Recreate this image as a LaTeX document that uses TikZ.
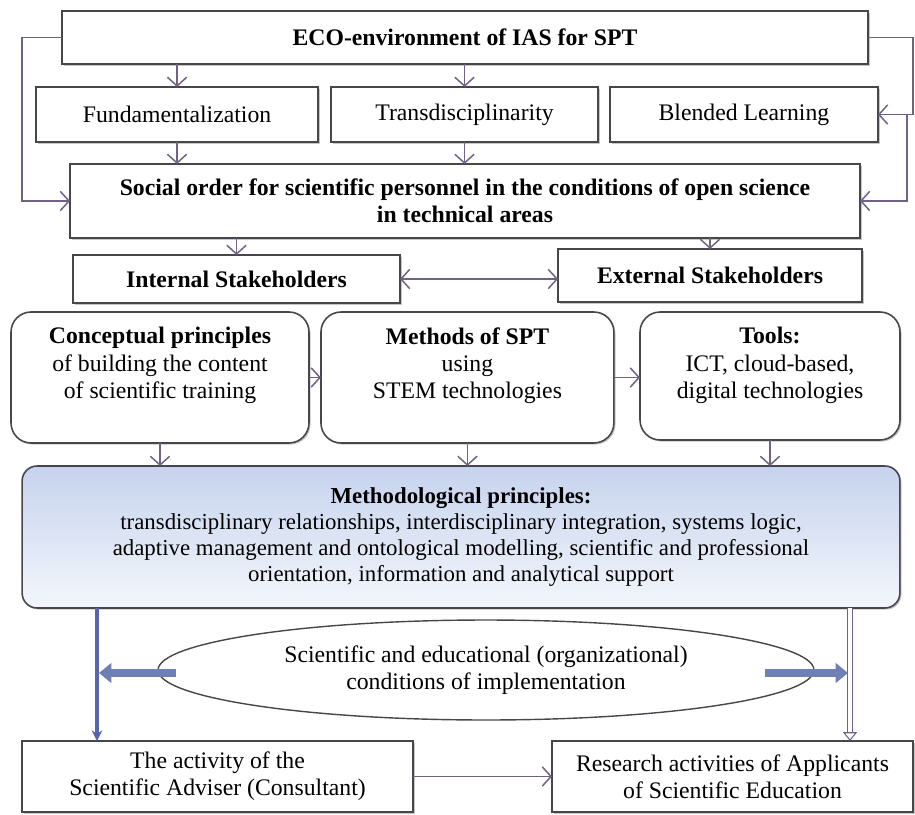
\documentclass[tikz,border=0pt]{standalone}
\usepackage{fontspec}
\setmainfont{Liberation Serif}
\usetikzlibrary{positioning}
\usetikzlibrary{arrows.meta}
\usetikzlibrary{shapes.geometric}
\usetikzlibrary{shadows}

\definecolor{boxline}{RGB}{72,70,76}
\definecolor{arrowgray}{RGB}{112,98,132}
\definecolor{bluearr}{RGB}{88,100,172}
\definecolor{blocka}{RGB}{110,128,180}
\definecolor{methtop}{RGB}{198,211,238}
\definecolor{methbot}{RGB}{243,246,251}

\begin{document}
\begin{tikzpicture}[x=0.02cm, y=-0.02cm,
	box/.style={draw=boxline, line width=.9pt, fill=white, inner sep=0pt, outer sep=0pt, align=center,
		font=\fontsize{13.5}{15.5}\selectfont,
		drop shadow={shadow xshift=.9pt, shadow yshift=-.9pt, opacity=.45}},
	boldbox/.style={box, font=\fontsize{13.5}{15.5}\selectfont\bfseries},
	rbox/.style={box, rounded corners=0.4cm},
	txt/.style={align=center, inner sep=0pt, font=\fontsize{13.5}{15.5}\selectfont},
	conn/.style={draw=arrowgray, line width=.85pt, -{Straight Barb[length=5pt,width=11pt]}},
	both/.style={conn, {Straight Barb[length=5pt,width=11pt]}-{Straight Barb[length=5pt,width=11pt]}},
	blockarr/.style={draw=blocka, line width=4.5pt, -{Triangle[length=7pt,width=11pt]}},
]
	\useasboundingbox (0,0) rectangle (915,814);

	\node[boldbox, minimum width=16.12cm, minimum height=1.06cm] (eco) at (465,37.5) {ECO-environment of IAS for SPT};
	\node[box, minimum width=5.34cm, minimum height=1.1cm] (trans) at (464.5,114.5) {Transdisciplinarity};
	\node[box, minimum width=5.64cm, minimum height=1.1cm, left = 0.26cm of trans] (fund) {Fundamentalization};
	\node[box, minimum width=5.36cm, minimum height=1.1cm, right = 0.24cm of trans] (blend) {Blended Learning};
	\node[boldbox, minimum width=15.8cm, minimum height=1.48cm] (social) at (465,201) {Social order for scientific personnel in the conditions of open science\\in technical areas};
	\node[boldbox, minimum width=6.54cm, minimum height=0.96cm] (internal) at (236.5,279) {Internal Stakeholders};
	\node[boldbox, minimum width=6.08cm, minimum height=1.06cm] (external) at (710,275.5) {External Stakeholders};

	\node[rbox, minimum width=5.96cm, minimum height=2.62cm] (concept) at (160,377.5) {};
	\node[rbox, minimum width=5.86cm, minimum height=2.62cm, right = 0.24cm of concept] (methods) {};
	\node[rbox, minimum width=5.2cm, minimum height=2.56cm] (tools) at (770,376) {};
	\node[txt, below = 0.3cm of concept.north] (conceptT) {\textbf{Conceptual principles}\\of building the content\\of scientific training};
	\node[txt, below = 0.3cm of methods.north] (methodsT) {\textbf{Methods of SPT}\\using\\STEM technologies};
	\node[txt, below = 0.3cm of tools.north] (toolsT) {\textbf{Tools:}\\ICT, cloud-based,\\digital technologies};

	\node[rbox, rounded corners=0.3cm, top color=methtop, bottom color=methbot, minimum width=17.56cm, minimum height=2.84cm, font=\fontsize{13}{14.8}\selectfont] (meth) at (461,537) {\textbf{Methodological principles:}\\transdisciplinary relationships, interdisciplinary integration, systems logic,\\adaptive management and ontological modelling, scientific and professional\\orientation, information and analytical support};

	\node[draw=boxline, line width=.8pt, ellipse, inner sep=0pt, minimum width=13.12cm, minimum height=2cm, align=center, font=\fontsize{13.5}{15.5}\selectfont] (cond) at (486,670) {Scientific and educational (organizational)\\conditions of implementation};

	\node[box, minimum width=7.82cm, minimum height=1.42cm] (adv) at (217.5,776.5) {The activity of the\\Scientific Adviser (Consultant)};
	\node[box, minimum width=7.22cm, minimum height=1.42cm] (res) at (732.5,776.5) {Research activities of Applicants\\of Scientific Education};

	\coordinate (lcorner) at (22,37.5);
	\coordinate (rcorner) at (913,37.5);
	\coordinate (rjoin) at (907,114.5);
	\coordinate (advx) at (97,0);
	\coordinate (resx) at (850,0);
	\coordinate (lstart) at (176,673);
	\coordinate (lend) at (99,673);
	\coordinate (rstart) at (765,673);
	\coordinate (rend) at (848,673);

	\draw[conn] (eco.west) -- (lcorner) |- (social.west);
	\draw[conn] (eco.east) -- (rcorner) |- (blend.east);
	\draw[conn] (rjoin) |- (social.east);

	\path (eco.south -| fund.north) edge[conn] (fund.north);
	\path (eco.south -| trans.north) edge[conn] (trans.north);
	\path (fund.south) edge[conn] (fund.south |- social.north);
	\path (trans.south) edge[conn] (trans.south |- social.north);
	\path (social.south -| internal.north) edge[conn] (internal.north);
	\path (social.south -| external.north) edge[conn] (external.north);
	\path (internal.east) edge[both] (internal.east -| external.west);

	\path (concept.east) edge[conn] (methods.west);
	\path (methods.west -| methods.east) edge[conn] (methods.west -| tools.west);
	\path (concept.south) edge[conn] (concept.south |- meth.north);
	\path (methods.south) edge[conn] (methods.south |- meth.north);
	\path (tools.south) edge[conn] (tools.south |- meth.north);

	\draw[draw=bluearr, line width=2.4pt, -{Stealth[length=6pt,width=6pt]}] (meth.south -| advx) -- (adv.north -| advx);
	\draw[draw=arrowgray, line width=.6pt, double=white, double distance=2.2pt, -{Triangle[open, length=5pt, width=8pt]}] (meth.south -| resx) -- (res.north -| resx);
	\draw[blockarr] (lstart) -- (lend);
	\draw[blockarr] (rstart) -- (rend);

	\path (adv.east) edge[conn] (res.west);
\end{tikzpicture}
\end{document}
